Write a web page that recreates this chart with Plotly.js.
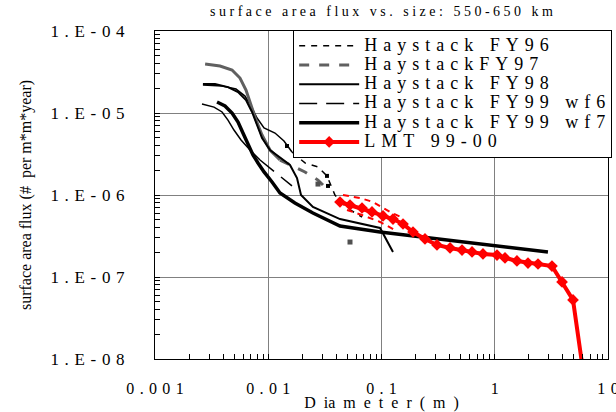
<!DOCTYPE html>
<html>
<head>
<meta charset="utf-8">
<script src="https://cdn.plot.ly/plotly-3.0.1.min.js"></script>
<style>html,body{margin:0;padding:0;background:#fff;}#chart{width:616px;height:412px;}</style>
</head>
<body>
<div id="chart"></div>
<script>
// ---- data ----
const titleText = 'surface area flux vs. size: 550-650 km';
const xTitleText = 'D ia m e t e r ( m )';
const yTitleText = 'surface area flux (#  per m*m*year)';
const seriesNames = ['Haystack FY96', 'HaystackFY97', 'Haystack FY98', 'Haystack FY99 wf6', 'Haystack FY99 wf7', 'LMT 99-00'];

const xTickVals = [0.001, 0.01, 0.1, 1, 10];
const xTickText = ['0.001', '0.01', '0.1', '1', '10'];
const yTickVals = [1e-8, 1e-7, 1e-6, 1e-5, 1e-4];
const yTickText = ['1.E-08', '1.E-07', '1.E-06', '1.E-05', '1.E-04'];

const fy96X = [0.00265, 0.00391, 0.00519, 0.00623, 0.00704, 0.00796, 0.00918, 0.01147, 0.01377, 0.0162, 0.0211, 0.0275, 0.0330, 0.0388, 0.0496, 0.0673];
const fy96Y = [2.20e-5, 2.13e-5, 1.96e-5, 1.61e-5, 1.22e-5, 8.69e-6, 6.56e-6, 5.70e-6, 4.56e-6, 3.35e-6, 2.46e-6, 2.20e-6, 1.71e-6, 1.0e-6, 6.94e-7, 5.39e-7];

const fy97X = [0.00277, 0.00375, 0.00479, 0.00563, 0.00636, 0.00704, 0.0078, 0.00881, 0.01036, 0.0127, 0.0162, 0.0211, 0.0275, 0.0351];
const fy97Y = [3.96e-5, 3.74e-5, 3.35e-5, 2.67e-5, 1.91e-5, 1.25e-5, 8.2e-6, 5.39e-6, 3.54e-6, 2.67e-6, 2.26e-6, 1.91e-6, 1.52e-6, 1.09e-6];

const fy98X = [0.00265, 0.00339, 0.00441, 0.00541, 0.00636, 0.00719, 0.00796, 0.00881, 0.01036, 0.0127, 0.01556, 0.01794, 0.01946, 0.0248, 0.0430, 0.0971, 0.1263];
const fy98Y = [2.26e-5, 2.26e-5, 2.07e-5, 1.80e-5, 1.44e-5, 1.03e-5, 7.14e-6, 4.95e-6, 3.54e-6, 2.83e-6, 2.32e-6, 1.61e-6, 1.0e-6, 7.14e-7, 5.09e-7, 3.96e-7, 2.02e-7];

const wf6X = [0.0026, 0.00332, 0.00391, 0.00441, 0.00498, 0.00575, 0.0069, 0.00846, 0.01036, 0.0127, 0.0162];
const wf6Y = [1.29e-5, 1.18e-5, 1.03e-5, 8.2e-6, 6.2e-6, 4.69e-6, 3.54e-6, 2.67e-6, 2.13e-6, 1.71e-6, 1.29e-6];

const wf7X = [0.00353, 0.00415, 0.00479, 0.00541, 0.00598, 0.00663, 0.00733, 0.00812, 0.00918, 0.0108, 0.0127, 0.0172, 0.0248, 0.0430, 0.0971, 2.95];
const wf7Y = [1.36e-5, 1.22e-5, 1.0e-5, 7.77e-6, 5.70e-6, 4.07e-6, 3.08e-6, 2.46e-6, 1.91e-6, 1.44e-6, 1.06e-6, 7.99e-7, 6.03e-7, 4.19e-7, 3.54e-7, 2.02e-7];

const lmtX = [0.0430, 0.0527, 0.0673, 0.0824, 0.1031, 0.1263, 0.1549, 0.1897, 0.2421, 0.309, 0.403, 0.514, 0.630, 0.787, 1.047, 1.232, 1.57, 1.966, 2.41, 3.20, 3.93, 4.91, 5.89];
const lmtY = [8.22e-7, 7.55e-7, 6.94e-7, 6.21e-7, 5.55e-7, 5.09e-7, 4.43e-7, 3.54e-7, 2.91e-7, 2.46e-7, 2.26e-7, 2.13e-7, 2.02e-7, 1.91e-7, 1.85e-7, 1.71e-7, 1.57e-7, 1.48e-7, 1.44e-7, 1.36e-7, 8.7e-8, 5.25e-8, 8.9e-9];

const lmtHiX = [0.0457, 0.0646, 0.0841, 0.1189, 0.1549];
const lmtHiY = [1.0e-6, 9.19e-7, 8.22e-7, 6.21e-7, 5.25e-7];
const lmtLoX = [0.0496, 0.0673, 0.0971, 0.1315];
const lmtLoY = [6.56e-7, 5.70e-7, 4.69e-7, 3.74e-7];

const fy97PtsX = [0.0275, 0.0527];
const fy97PtsY = [1.36e-6, 2.67e-7];
const fy96PtsX = [0.01464, 0.0330, 0.0337];
const fy96PtsY = [3.96e-6, 1.71e-6, 1.29e-6];

// index where the dense (solid-looking) part of each dashed series ends
const fy96Split = 9, fy97Split = 9, wf6Split = 7;

// ---- helpers ----
const FONT = 'Liberation Serif, Times New Roman, serif';
function spaced(s, gap) {
  return s.split('').map(c => c === ' ' ? '\u00A0' : c).join(gap);
}
function legendLabel(s) {
  return '<span style="font-size:18px">' + spaced(s, '\u2004') + '</span>';
}
function minorVals(lo, hi) {
  const v = [];
  for (let e = lo; e < hi; e++) for (let m = 2; m <= 9; m++) v.push(m * Math.pow(10, e));
  return v;
}

const traces = [
  // solid-looking dense heads of the dashed series (not in legend)
  {x: fy96X.slice(0, fy96Split + 1), y: fy96Y.slice(0, fy96Split + 1), mode: 'lines', showlegend: false,
   line: {color: '#000', width: 1.5}},
  {x: fy97X.slice(0, fy97Split + 1), y: fy97Y.slice(0, fy97Split + 1), mode: 'lines', showlegend: false,
   line: {color: '#606060', width: 3}},
  {x: wf6X.slice(0, wf6Split + 1), y: wf6Y.slice(0, wf6Split + 1), mode: 'lines', showlegend: false,
   line: {color: '#000', width: 1.5}},
  // legend series
  {x: fy96X.slice(fy96Split), y: fy96Y.slice(fy96Split), name: legendLabel(seriesNames[0]), mode: 'lines',
   line: {color: '#000', width: 1.5, dash: '6px,6px'}},
  {x: fy97X.slice(fy97Split), y: fy97Y.slice(fy97Split), name: legendLabel(seriesNames[1]), mode: 'lines',
   line: {color: '#606060', width: 3, dash: '10px,10px'}},
  {x: fy98X, y: fy98Y, name: legendLabel(seriesNames[2]), mode: 'lines',
   line: {color: '#000', width: 2}},
  {x: wf6X.slice(wf6Split), y: wf6Y.slice(wf6Split), name: legendLabel(seriesNames[3]), mode: 'lines',
   line: {color: '#000', width: 1.5, dash: '18px,9px'}},
  {x: wf7X, y: wf7Y, name: legendLabel(seriesNames[4]), mode: 'lines',
   line: {color: '#000', width: 3.5}},
  {x: lmtX, y: lmtY, name: legendLabel(seriesNames[5]), mode: 'lines+markers',
   line: {color: '#ff0000', width: 4}, marker: {symbol: 'diamond', size: 9, color: '#ff0000'}},
  {x: lmtHiX, y: lmtHiY, mode: 'lines', showlegend: false,
   line: {color: '#ff0000', width: 2, dash: '6px,5px'}},
  {x: lmtLoX, y: lmtLoY, mode: 'lines', showlegend: false,
   line: {color: '#ff0000', width: 2, dash: '6px,5px'}},
  {x: fy97PtsX, y: fy97PtsY, mode: 'markers', showlegend: false,
   marker: {symbol: 'square', size: 5, color: '#505050'}},
  {x: fy96PtsX, y: fy96PtsY, mode: 'markers', showlegend: false,
   marker: {symbol: 'square', size: 4, color: '#000'}}
];

const layout = {
  width: 616, height: 412,
  margin: {l: 155, r: 8, t: 31, b: 53, pad: 0, autoexpand: false},
  paper_bgcolor: '#fff', plot_bgcolor: '#fff',
  font: {family: FONT, color: '#000'},
  title: {text: spaced(titleText, '\u2005'), font: {family: FONT, size: 14, color: '#000'},
          x: 0.5, xref: 'paper', y: 0.973, yref: 'container', yanchor: 'middle'},
  showlegend: true,
  legend: {x: 0.305, y: 1.003, xanchor: 'left', yanchor: 'top', bgcolor: '#fff',
           bordercolor: '#000', borderwidth: 1, font: {family: FONT, size: 12.5, color: '#000'},
           itemwidth: 60, tracegroupgap: 0},
  xaxis: {
    type: 'log', range: [-3, 1], autorange: false, automargin: false,
    tickmode: 'array', tickvals: xTickVals, ticktext: xTickText.map(t => spaced(t, '\u2004')),
    tickfont: {family: FONT, size: 16, color: '#000'}, ticklabeloverflow: 'allow',
    ticks: 'inside', ticklen: 5, tickcolor: '#000', ticklabelstandoff: 15,
    showgrid: true, gridcolor: '#808080', gridwidth: 1,
    showline: true, linecolor: '#000', linewidth: 1, mirror: true,
    zeroline: false,
    minor: {tickmode: 'array', tickvals: minorVals(-3, 1), ticks: 'inside', ticklen: 5, tickcolor: '#000', showgrid: false},
    title: {text: xTitleText.replace(/ /g, '\u2002'), font: {family: FONT, size: 16, color: '#000'}, standoff: 0}
  },
  yaxis: {
    type: 'log', range: [-8, -4], autorange: false, automargin: false,
    tickmode: 'array', tickvals: yTickVals, ticktext: yTickText.map(t => spaced(t, '\u2004')),
    tickfont: {family: FONT, size: 17, color: '#000'},
    ticks: 'inside', ticklen: 5, tickcolor: '#000', ticklabelstandoff: 26,
    showgrid: true, gridcolor: '#808080', gridwidth: 1,
    showline: true, linecolor: '#000', linewidth: 1, mirror: true,
    zeroline: false,
    minor: {tickmode: 'array', tickvals: minorVals(-8, -4), ticks: 'inside', ticklen: 5, tickcolor: '#000', showgrid: false},
    title: {text: yTitleText.replace(/ /g, '\u00A0'), font: {family: FONT, size: 16, color: '#000'}, standoff: 14}
  }
};

Plotly.newPlot('chart', traces, layout, {displayModeBar: false, staticPlot: true});
</script>
</body>
</html>
